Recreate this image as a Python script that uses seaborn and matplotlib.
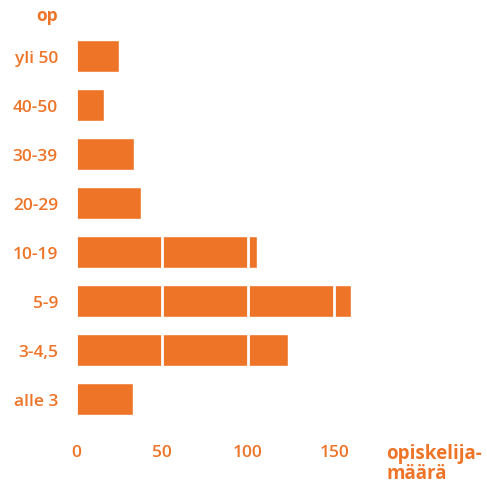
import matplotlib
matplotlib.use('Agg')
import matplotlib.pyplot as plt
import seaborn as sns

# opintopistemäärät ja opiskelijamäärät
categories = ['yli 50', '40-50', '30-39', '20-29', '10-19', '5-9', '3-4,5', 'alle 3']
values = [25, 16, 34, 38, 105, 160, 123, 33]
ticks = [0, 50, 100, 150]

orange = '#EE7428'

sns.set_style('white')
plt.rcParams['font.family'] = ['Open Sans', 'DejaVu Sans']

fig = plt.figure(figsize=(4.87, 4.85), dpi=100)
ax = fig.add_axes([0.156, 0.125, 0.583, 0.808])

sns.barplot(x=values, y=categories, color=orange, saturation=1, width=0.65,
            orient='h', ax=ax)

ax.set_xlim(0, 165)
ax.set_xticks(ticks)
ax.set_axisbelow(False)
ax.grid(axis='x', color='white', linewidth=2)
ax.grid(axis='y', visible=False)
sns.despine(ax=ax, left=True, bottom=True)
ax.tick_params(length=0, labelsize=12.5, labelcolor=orange)
ax.tick_params(axis='y', pad=13)
ax.tick_params(axis='x', pad=15)
for lab in ax.get_xticklabels() + ax.get_yticklabels():
    lab.set_fontweight('semibold')
ax.set_xlabel('')
ax.set_ylabel('')

fig.text(58 / 487, 1 - 16 / 485, 'op', ha='right', va='center',
         color=orange, fontsize=12.5, fontweight='bold')
fig.text(386 / 487, 1 - 464 / 485, 'opiskelija-\nmäärä', ha='left', va='center',
         color=orange, fontsize=13.5, fontweight='bold', linespacing=1.05)

fig.savefig('out.png', dpi=100)
